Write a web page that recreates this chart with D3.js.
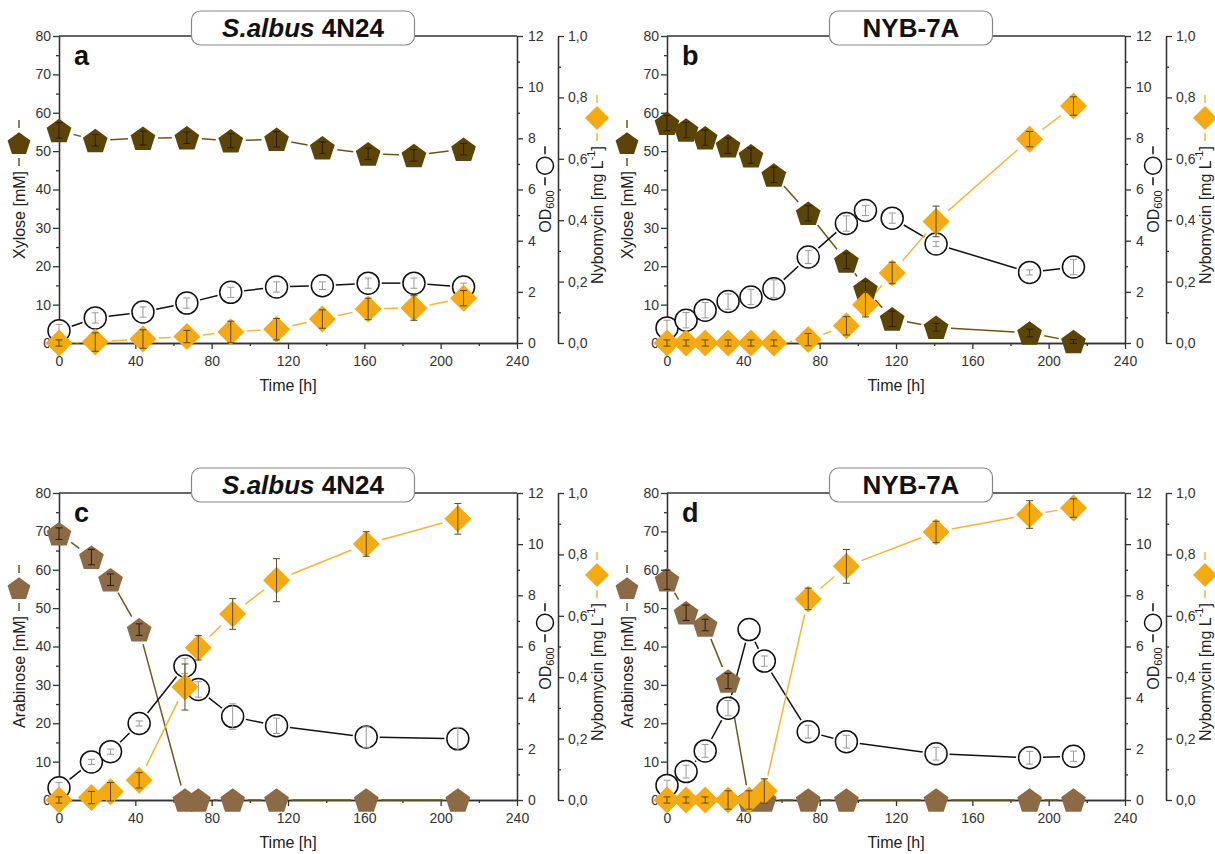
<!DOCTYPE html>
<html>
<head>
<meta charset="utf-8">
<script src="https://cdn.jsdelivr.net/npm/d3@7"></script>
<style>
body { margin: 0; background: #fff; }
svg text { font-family: "Liberation Sans", Arial, sans-serif; }
</style>
</head>
<body>
<div id="chart"></div>
<script>
// ---- data ----
// panel a: S.albus 4N24 on xylose
const timeA = [0, 19, 44, 67, 90, 114, 138, 162, 186, 212];
const xyloseA = [55.4, 52.8, 53.4, 53.5, 52.7, 53.1, 50.9, 49.3, 48.9, 50.5];
const xyloseErrA = [2.0, 1.5, 1.8, 1.5, 1.8, 2.0, 1.5, 1.5, 1.5, 1.5];
const odA = [0.48, 0.98, 1.21, 1.56, 1.98, 2.19, 2.24, 2.34, 2.34, 2.19];
const odErrA = [0.25, 0.2, 0.2, 0.2, 0.2, 0.2, 0.15, 0.2, 0.2, 0.15];
const nybA = [0, 0.003, 0.013, 0.021, 0.036, 0.045, 0.078, 0.111, 0.114, 0.146];
const nybErrA = [0.01, 0.03, 0.03, 0.02, 0.035, 0.035, 0.03, 0.035, 0.04, 0.025];

// panel b: NYB-7A on xylose
const timeB = [0, 10, 20, 32, 44, 56, 74, 94, 104, 118, 141, 190, 213];
const xyloseB = [57.3, 55.5, 53.5, 51.4, 48.8, 43.8, 33.8, 21.4, 14.1, 6.3, 4.1, 2.6, 0.4];
const xyloseErrB = [2, 2, 2, 2, 2, 2, 2, 2, 2, 2, 1, 1, 0.5];
const odB = [0.59, 0.89, 1.28, 1.62, 1.80, 2.12, 3.36, 4.67, 5.18, 4.88, 3.87, 2.76, 2.97];
const odErrB = [0.3, 0.3, 0.3, 0.3, 0.3, 0.35, 0.25, 0.3, 0.2, 0.2, 0.1, 0.1, 0.3];
const nybB = [0, 0, 0, 0, 0, 0, 0.011, 0.056, 0.125, 0.228, 0.396, 0.664, 0.772];
const nybErrB = [0.01, 0.01, 0.01, 0.01, 0.01, 0.01, 0.02, 0.03, 0.04, 0.035, 0.05, 0.025, 0.03];

// panel c: S.albus 4N24 on arabinose
const timeC = [0, 17, 27, 42, 66, 73, 91, 114, 161, 209];
const arabC = [69.4, 63.3, 57.4, 44.4, 0, 0, 0, 0, 0, 0];
const arabErrC = [1.5, 2, 1.5, 1.5, 0, 0, 0, 0, 0, 0];
const odC = [0.48, 1.49, 1.89, 2.99, 5.24, 4.32, 3.26, 2.90, 2.46, 2.39];
const odErrC = [0.2, 0.1, 0.1, 0.1, 0.3, 0.3, 0.5, 0.3, 0.4, 0.45];
const nybC = [0, 0.008, 0.027, 0.064, 0.368, 0.496, 0.606, 0.716, 0.834, 0.916];
const nybErrC = [0.01, 0.02, 0.03, 0.025, 0.075, 0.04, 0.05, 0.07, 0.04, 0.05];

// panel d: NYB-7A on arabinose
const timeD = [0, 10, 20, 32, 43, 51, 74, 94, 141, 190, 213];
const arabD = [57.4, 48.8, 45.6, 31.0, 0, 0, 0, 0, 0, 0, 0];
const arabErrD = [2.5, 2, 1.5, 2, 0, 0, 0, 0, 0, 0, 0];
const odD = [0.57, 1.11, 1.92, 3.59, 6.66, 5.43, 2.67, 2.28, 1.81, 1.65, 1.71];
const odErrD = [0.2, 0.25, 0.25, 0.3, 0, 0.2, 0.25, 0.25, 0.25, 0.25, 0.2];
const nybD = [0, 0, 0, 0, 0, 0.029, 0.655, 0.761, 0.873, 0.93, 0.951];
const nybErrD = [0.01, 0.01, 0.01, 0.03, 0.03, 0.04, 0.035, 0.055, 0.035, 0.045, 0.03];

// axis ticks
const xTicks = [0, 40, 80, 120, 160, 200, 240];
const leftTicks = [0, 10, 20, 30, 40, 50, 60, 70, 80];
const odTicks = [0, 2, 4, 6, 8, 10, 12];
const nybTicks = [0, 0.2, 0.4, 0.6, 0.8, 1.0];

// ---- layout ----
const W = 1215, H = 854;
const pw = 458, ph = 307;
const axisCol = "#333";
const orange = "#f6aa12", orangeLine = "#f5b535";

const panels = [
  {letter: "a", x0: 59, y0: 36, strain: "albus", sugar: "Xylose", t: timeA,
   s: xyloseA, sErr: xyloseErrA, od: odA, odErr: odErrA, nyb: nybA, nybErr: nybErrA,
   sFill: "#5c4407", sLine: "#6e5516"},
  {letter: "b", x0: 667, y0: 36, strain: "nyb", sugar: "Xylose", t: timeB,
   s: xyloseB, sErr: xyloseErrB, od: odB, odErr: odErrB, nyb: nybB, nybErr: nybErrB,
   sFill: "#5c4407", sLine: "#6e5516"},
  {letter: "c", x0: 59, y0: 493, strain: "albus", sugar: "Arabinose", t: timeC,
   s: arabC, sErr: arabErrC, od: odC, odErr: odErrC, nyb: nybC, nybErr: nybErrC,
   sFill: "#8c6a45", sLine: "#6b5a20"},
  {letter: "d", x0: 667, y0: 493, strain: "nyb", sugar: "Arabinose", t: timeD,
   s: arabD, sErr: arabErrD, od: odD, odErr: odErrD, nyb: nybD, nybErr: nybErrD,
   sFill: "#8c6a45", sLine: "#6b5a20"}
];

const svg = d3.select("#chart").append("svg")
  .attr("width", W).attr("height", H);
svg.append("rect").attr("width", W).attr("height", H).attr("fill", "#fff");

// marker paths
function pentagon(r) {
  const pts = d3.range(5).map(i => {
    const a = -Math.PI / 2 + i * 2 * Math.PI / 5;
    return [r * Math.cos(a), r * Math.sin(a) + r * 0.1];
  });
  return "M" + pts.map(p => p.join(",")).join("L") + "Z";
}
function diamond(h) {
  return `M0,${-h}L${h},0L0,${h}L${-h},0Z`;
}

// line with small gaps around markers (Origin style)
function gapLine(g, xs, ys, gap, color) {
  for (let i = 0; i < xs.length - 1; i++) {
    const dx = xs[i + 1] - xs[i], dy = ys[i + 1] - ys[i];
    const len = Math.hypot(dx, dy);
    if (len <= 2 * gap + 1) continue;
    const ux = dx / len, uy = dy / len;
    g.append("line")
      .attr("x1", xs[i] + ux * gap).attr("y1", ys[i] + uy * gap)
      .attr("x2", xs[i + 1] - ux * gap).attr("y2", ys[i + 1] - uy * gap)
      .attr("stroke", color).attr("stroke-width", 1.5);
  }
}

function errBars(g, xs, vals, errs, yScale, color) {
  vals.forEach((v, i) => {
    if (!errs[i]) return;
    const cx = xs[i], y1 = yScale(v - errs[i]), y2 = yScale(v + errs[i]);
    g.append("line").attr("x1", cx).attr("x2", cx).attr("y1", y1).attr("y2", y2)
      .attr("stroke", color).attr("stroke-width", 1);
    [y1, y2].forEach(yy => g.append("line")
      .attr("x1", cx - 3.5).attr("x2", cx + 3.5).attr("y1", yy).attr("y2", yy)
      .attr("stroke", color).attr("stroke-width", 1));
  });
}

// rotated axis title with a "-marker-" legend glyph on top
function vLabel(cx, cy, build, markerFn, lineColor, msize) {
  const g = svg.append("g").attr("transform", `translate(${cx},${cy}) rotate(-90)`);
  const txt = g.append("text").attr("font-size", 16).attr("fill", "#222")
    .attr("dominant-baseline", "central");
  build(txt);
  const tw = txt.node().getComputedTextLength();
  const dash = 8, gp = 3;
  const total = tw + 5 + dash + gp + 2 * msize + gp + dash;
  const start = -total / 2;
  txt.attr("x", start);
  let pos = start + tw + 5;
  g.append("line").attr("x1", pos).attr("x2", pos + dash).attr("y1", 0).attr("y2", 0)
    .attr("stroke", lineColor).attr("stroke-width", 1.5);
  pos += dash + gp + msize;
  // marker group is turned back upright
  markerFn(g.append("g").attr("transform", `translate(${pos},0) rotate(90)`));
  pos += msize + gp;
  g.append("line").attr("x1", pos).attr("x2", pos + dash).attr("y1", 0).attr("y2", 0)
    .attr("stroke", lineColor).attr("stroke-width", 1.5);
}

function styleAxis(sel) {
  sel.attr("font-size", 14).attr("font-family", "Liberation Sans, Arial, sans-serif");
  sel.selectAll("path, line").attr("stroke", axisCol).attr("stroke-width", 1.3);
  sel.selectAll("text").attr("fill", "#333");
}

panels.forEach(p => {
  const x = d3.scaleLinear().domain([0, 240]).range([p.x0, p.x0 + pw]);
  const yL = d3.scaleLinear().domain([0, 80]).range([p.y0 + ph, p.y0]);
  const yOD = d3.scaleLinear().domain([0, 12]).range([p.y0 + ph, p.y0]);
  const yN = d3.scaleLinear().domain([0, 1]).range([p.y0 + ph, p.y0]);
  const xR = p.x0 + pw, xR2 = xR + 41;
  const yB = p.y0 + ph;

  // axes: minor ticks first, then major
  svg.append("g").attr("transform", `translate(${p.x0},0)`)
    .call(d3.axisLeft(yL).tickValues(d3.range(5, 80, 10)).tickSize(3).tickFormat("").tickSizeOuter(0))
    .call(styleAxis);
  svg.append("g").attr("transform", `translate(${p.x0},0)`)
    .call(d3.axisLeft(yL).tickValues(leftTicks).tickSize(6).tickPadding(2).tickSizeOuter(0))
    .call(styleAxis);

  svg.append("g").attr("transform", `translate(0,${yB})`)
    .call(d3.axisBottom(x).tickValues(d3.range(20, 240, 40)).tickSize(3).tickFormat("").tickSizeOuter(0))
    .call(styleAxis);
  svg.append("g").attr("transform", `translate(0,${yB})`)
    .call(d3.axisBottom(x).tickValues(xTicks).tickSize(6).tickPadding(7).tickSizeOuter(0))
    .call(styleAxis);

  svg.append("g").attr("transform", `translate(${xR},0)`)
    .call(d3.axisRight(yOD).tickValues(d3.range(1, 12, 2)).tickSize(3).tickFormat("").tickSizeOuter(0))
    .call(styleAxis);
  svg.append("g").attr("transform", `translate(${xR},0)`)
    .call(d3.axisRight(yOD).tickValues(odTicks).tickSize(6).tickPadding(5).tickSizeOuter(0))
    .call(styleAxis);

  svg.append("g").attr("transform", `translate(${xR2},0)`)
    .call(d3.axisRight(yN).tickValues([0.1, 0.3, 0.5, 0.7, 0.9]).tickSize(3).tickFormat("").tickSizeOuter(0))
    .call(styleAxis);
  svg.append("g").attr("transform", `translate(${xR2},0)`)
    .call(d3.axisRight(yN).tickValues(nybTicks).tickSize(6).tickPadding(4).tickSizeOuter(0)
      .tickFormat(d => d3.format(".1f")(d).replace(".", ",")))
    .call(styleAxis);

  // top frame line
  svg.append("line").attr("x1", p.x0).attr("x2", xR).attr("y1", p.y0).attr("y2", p.y0)
    .attr("stroke", axisCol).attr("stroke-width", 1.3);

  // data
  const xs = p.t.map(d => x(d));
  const plot = svg.append("g");
  gapLine(plot, xs, p.s.map(d => yL(d)), 15, p.sLine);
  gapLine(plot, xs, p.od.map(d => yOD(d)), 13.5, "#111");
  gapLine(plot, xs, p.nyb.map(d => yN(d)), 16, orangeLine);

  p.s.forEach((v, i) => plot.append("path").attr("d", pentagon(13))
    .attr("transform", `translate(${xs[i]},${yL(v)})`).attr("fill", p.sFill));
  errBars(plot, xs, p.s, p.sErr, yL, "#2a1e00");

  p.od.forEach((v, i) => plot.append("circle").attr("cx", xs[i]).attr("cy", yOD(v)).attr("r", 11)
    .attr("fill", "#fff").attr("stroke", "#111").attr("stroke-width", 1.5));
  errBars(plot, xs, p.od, p.odErr, yOD, "#999");

  p.nyb.forEach((v, i) => plot.append("path").attr("d", diamond(13.5))
    .attr("transform", `translate(${xs[i]},${yN(v)})`).attr("fill", orange));
  errBars(plot, xs, p.nyb, p.nybErr, yN, "#5a4a20");

  // panel letter
  svg.append("text").attr("x", p.x0 + 15).attr("y", p.y0 + 29)
    .attr("font-size", 27).attr("font-weight", "bold").attr("fill", "#111").text(p.letter);

  // title box
  const bw = p.strain === "albus" ? 223 : 163;
  const bcx = p.x0 + pw / 2 + 15;
  svg.append("rect").attr("x", bcx - bw / 2).attr("y", p.y0 - 25).attr("width", bw).attr("height", 34)
    .attr("rx", 9).attr("fill", "#fff").attr("stroke", "#888").attr("stroke-width", 1.2);
  const tt = svg.append("text").attr("x", bcx).attr("y", p.y0 + 1)
    .attr("text-anchor", "middle").attr("font-size", 26).attr("font-weight", "bold").attr("fill", "#111");
  if (p.strain === "albus") {
    tt.append("tspan").attr("font-style", "italic").text("S.albus");
    tt.append("tspan").text(" 4N24");
  } else {
    tt.text("NYB-7A");
  }

  // x axis title
  svg.append("text").attr("x", p.x0 + pw / 2).attr("y", yB + 48)
    .attr("text-anchor", "middle").attr("font-size", 16).attr("fill", "#222").text("Time [h]");

  const midY = p.y0 + ph / 2;
  // left title with pentagon glyph
  vLabel(p.x0 - 40, midY,
    t => t.text(p.sugar + " [mM]"),
    g => g.append("path").attr("d", pentagon(12)).attr("fill", p.sFill),
    p.sLine, 12);
  // OD600 title with circle glyph
  vLabel(xR + 28, midY,
    t => { t.append("tspan").text("OD"); t.append("tspan").attr("font-size", 11).attr("dy", "0.45em").text("600"); },
    g => g.append("circle").attr("r", 8.5).attr("fill", "#fff").attr("stroke", "#111").attr("stroke-width", 1.5),
    "#111", 8.5);
  // Nybomycin title with diamond glyph
  vLabel(xR2 + 39, midY,
    t => {
      t.append("tspan").text("Nybomycin [mg L");
      t.append("tspan").attr("font-size", 11).attr("dy", "-0.55em").text("-1");
      t.append("tspan").attr("dy", "0.38em").text("]");
    },
    g => g.append("path").attr("d", diamond(12)).attr("fill", orange),
    orangeLine, 12);
});
</script>
</body>
</html>
